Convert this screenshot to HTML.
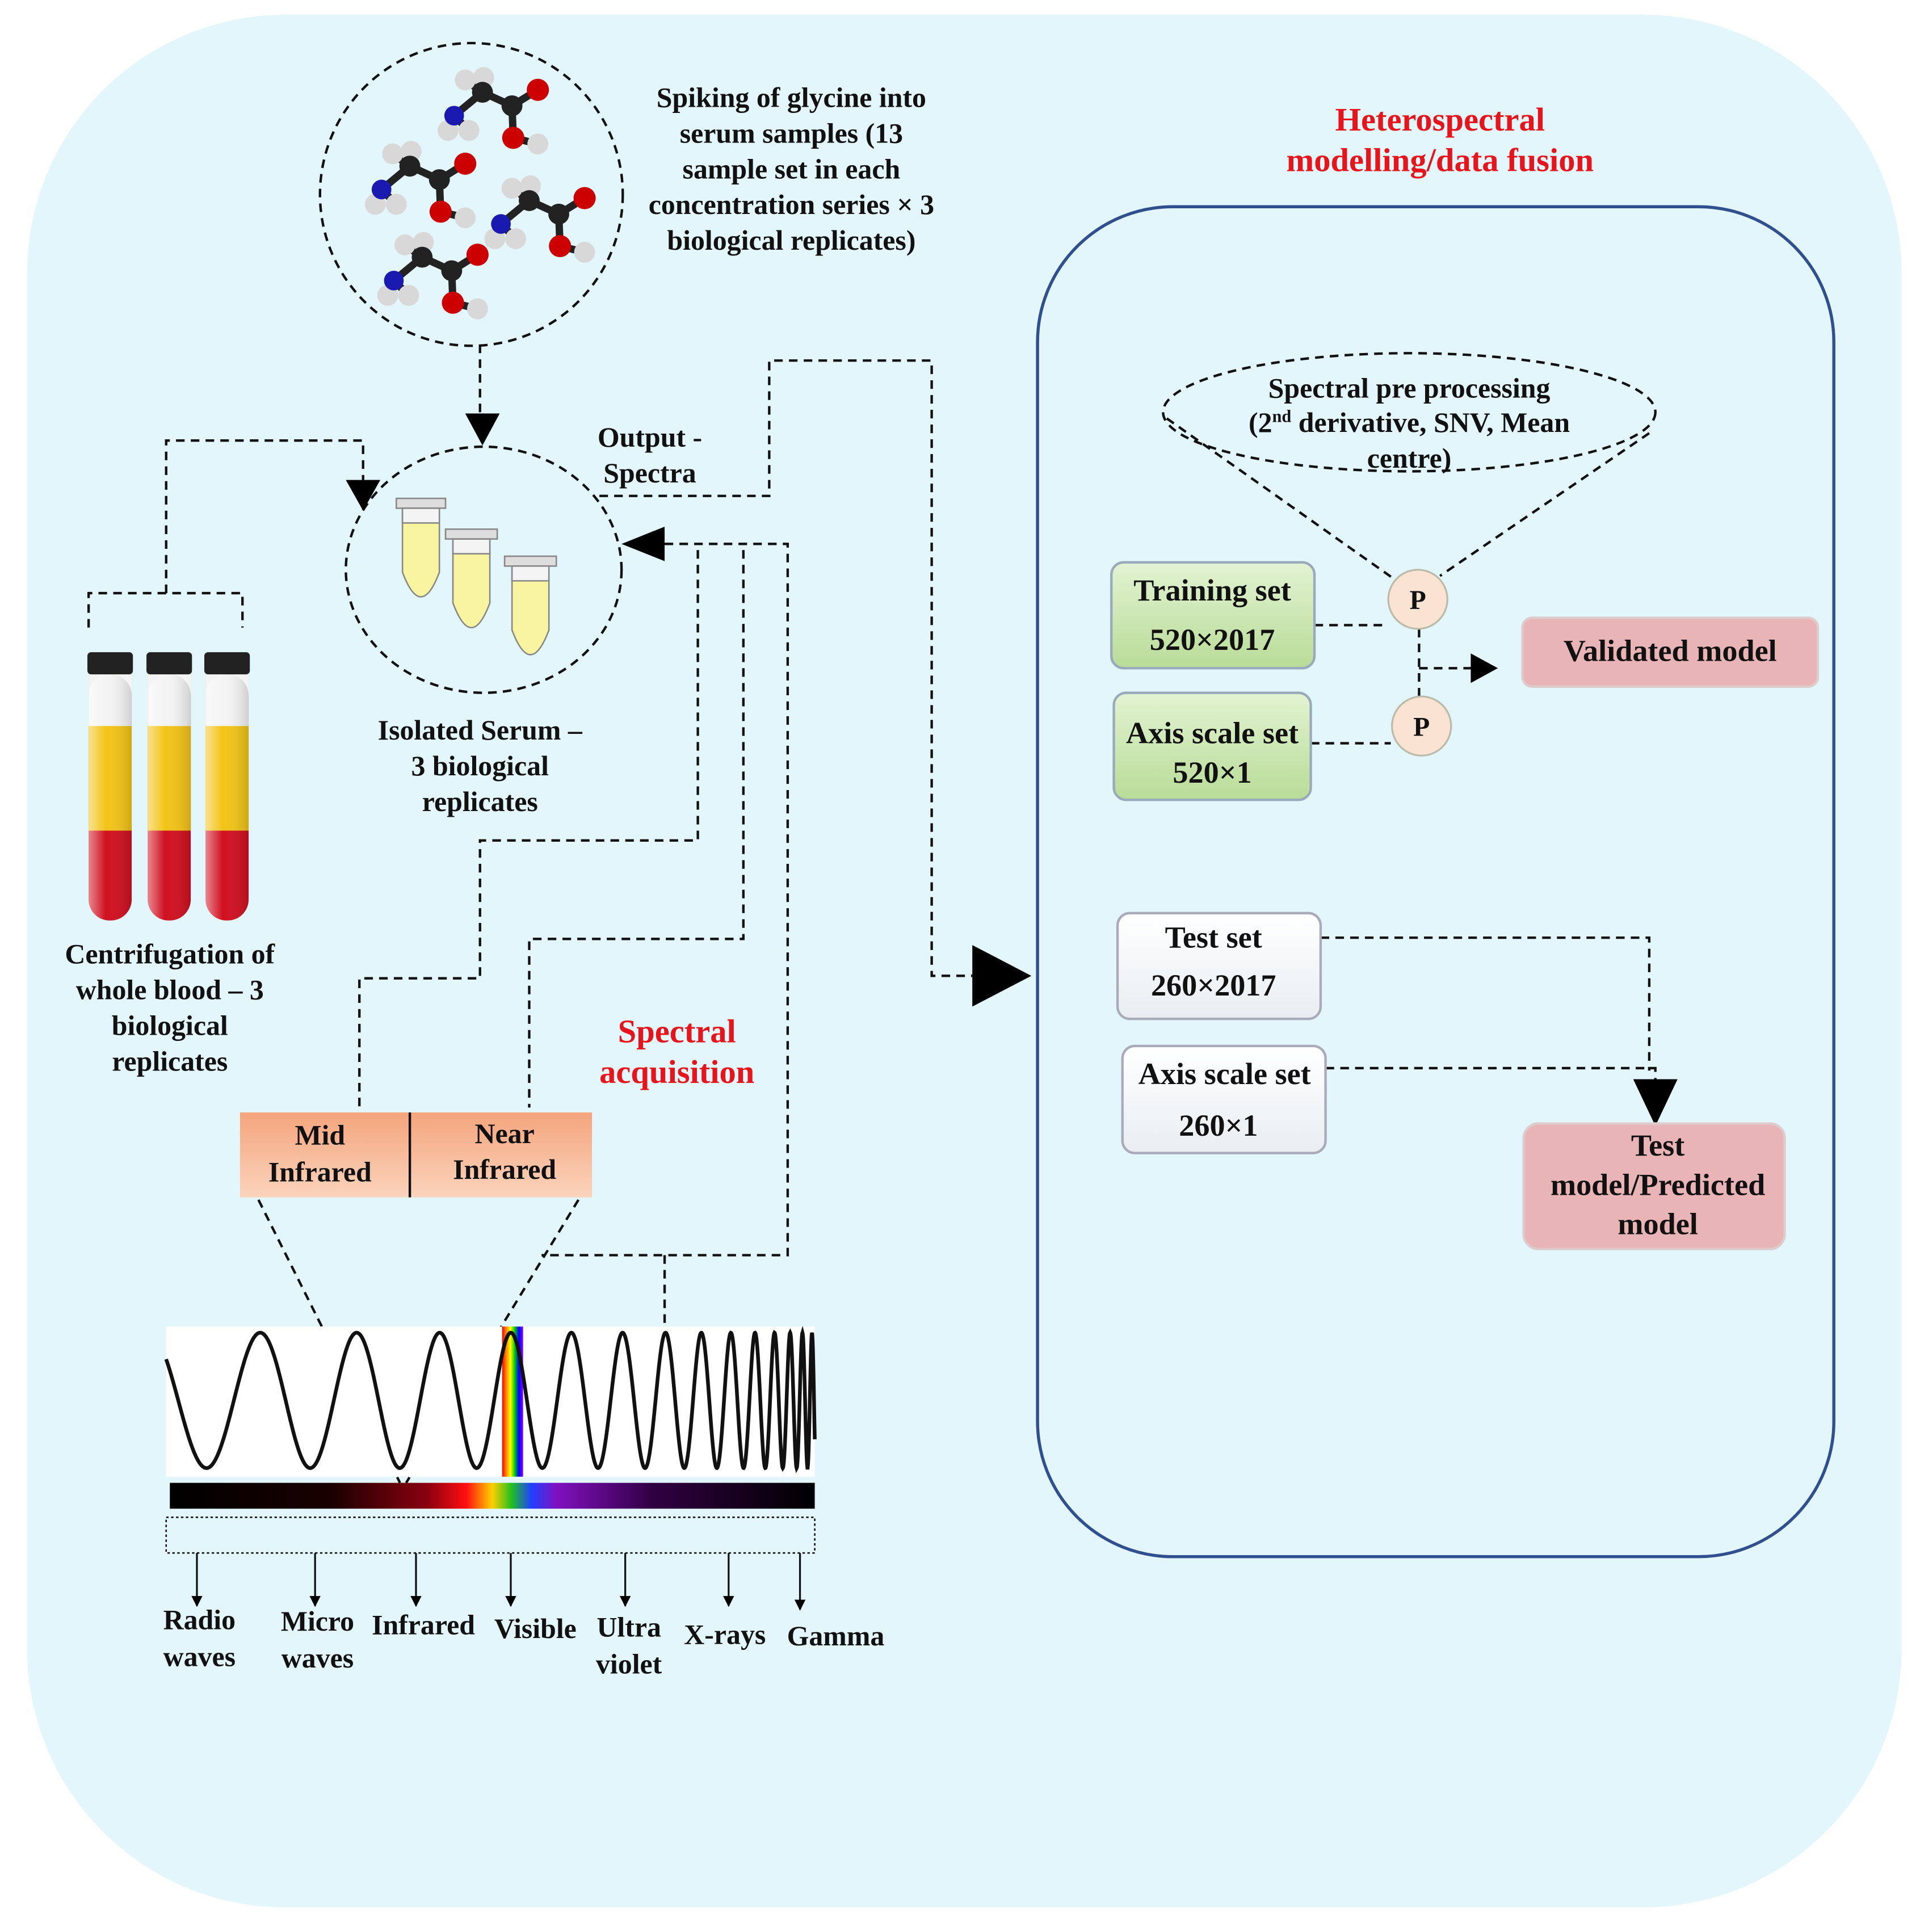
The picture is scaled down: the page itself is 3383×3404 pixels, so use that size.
<!DOCTYPE html>
<html><head><meta charset="utf-8"><style>
html,body{margin:0;padding:0;background:#fff;}
svg{display:block;}
text{font-family:"Liberation Serif",serif;font-weight:bold;fill:#111;}
.r{fill:#e8141c;}
</style></head><body>
<svg id="s" width="3383" height="3404" viewBox="0 0 1560 1570" preserveAspectRatio="none" xmlns="http://www.w3.org/2000/svg">
<defs>
<linearGradient id="spec" x1="0" x2="1" y1="0" y2="0">
<stop offset="0" stop-color="#000"/><stop offset="0.25" stop-color="#1a0000"/><stop offset="0.4" stop-color="#8a0010"/>
<stop offset="0.46" stop-color="#ff1010"/><stop offset="0.5" stop-color="#ffd000"/><stop offset="0.53" stop-color="#20c020"/>
<stop offset="0.56" stop-color="#2040ff"/><stop offset="0.6" stop-color="#8010c0"/><stop offset="0.75" stop-color="#300040"/><stop offset="1" stop-color="#000"/>
</linearGradient>
<linearGradient id="rb" x1="0" x2="1"><stop offset="0" stop-color="#f00"/><stop offset="0.2" stop-color="#f80"/><stop offset="0.4" stop-color="#ff0"/><stop offset="0.6" stop-color="#0c0"/><stop offset="0.8" stop-color="#00f"/><stop offset="1" stop-color="#80f"/></linearGradient>
<linearGradient id="peach" x1="0" y1="0" x2="0" y2="1"><stop offset="0" stop-color="#f4a57c"/><stop offset="1" stop-color="#fbd3bc"/></linearGradient>
<linearGradient id="green" x1="0" y1="0" x2="0" y2="1"><stop offset="0" stop-color="#e2f3d2"/><stop offset="1" stop-color="#b9dc98"/></linearGradient>
<linearGradient id="white" x1="0" y1="0" x2="0" y2="1"><stop offset="0" stop-color="#fff"/><stop offset="1" stop-color="#e9eef2"/></linearGradient>
<linearGradient id="tube" x1="0" x2="1"><stop offset="0" stop-color="#fff" stop-opacity="0.5"/><stop offset="0.4" stop-color="#fff" stop-opacity="0"/><stop offset="1" stop-color="#000" stop-opacity="0.15"/></linearGradient>
<marker id="a" viewBox="0 0 10 10" refX="9" refY="5" markerWidth="6" markerHeight="6" orient="auto"><path d="M0,0L10,5L0,10z" fill="#000"/></marker>
</defs>
<rect x="22" y="12" width="1523" height="1538" rx="210" fill="#e3f6fb"/>
<rect x="843" y="168" width="647" height="1097" rx="110" fill="none" stroke="#2f4f8f" stroke-width="2.5"/>

<g fill="none" stroke="#111" stroke-width="2" stroke-dasharray="7,5">
<circle cx="383" cy="158" r="123"/>
<ellipse cx="393" cy="463" rx="112" ry="100"/>
<path d="M390,280V340"/>
<path d="M72,510V482H197V510M135,482V358H295V395"/>
<path d="M487,403H625V293H757V793H790"/>
<path d="M567,447V683H390V795H292V900M604,447V763H430V900M540,442H640V1020H440M540,1020V1078"/>
<path d="M210,975L325,1205M470,975L330,1205"/>
<ellipse cx="1145" cy="335" rx="200" ry="48"/>
<path d="M948,340L1132,470M1340,352L1170,468"/>
<path d="M1068,508H1128M1065,604H1130M1153,511V566M1153,543H1200"/>
<path d="M1073,762H1340V870M1077,868H1345V880"/>
</g>
<polygon points="392,362 378,336 406,336" fill="#000"/>
<polygon points="295,415 281,390 309,390" fill="#000"/>
<polygon points="505,442 540,428 540,456" fill="#000"/>
<polygon points="838,793 790,768 790,818" fill="#000"/>
<polygon points="1217,543 1195,531 1195,555" fill="#000"/>
<polygon points="1345,915 1327,877 1363,877" fill="#000"/>

<g id="mols"></g>

<g stroke="#888" stroke-width="1.2">
<g transform="translate(322,405)"><rect x="0" y="0" width="40" height="8" fill="#ddd"/><path d="M5,8H35V60Q20,100 5,60Z" fill="#f8f4a0"/><path d="M5,8H35V20H5Z" fill="#f4f4f4"/></g>
<g transform="translate(362,430)"><rect x="0" y="0" width="42" height="8" fill="#ddd"/><path d="M6,8H36V60Q21,100 6,60Z" fill="#f8f4a0"/><path d="M6,8H36V20H6Z" fill="#f4f4f4"/></g>
<g transform="translate(410,452)"><rect x="0" y="0" width="42" height="8" fill="#ddd"/><path d="M6,8H36V60Q21,100 6,60Z" fill="#f8f4a0"/><path d="M6,8H36V20H6Z" fill="#f4f4f4"/></g>
</g>

<g>
<g transform="translate(72,530)"><rect x="0" y="18" width="35" height="200" rx="17" fill="#d01020"/><rect x="0" y="18" width="35" height="127" fill="#f2c418"/><rect x="0" y="18" width="35" height="42" fill="#f4f4f4"/><rect x="0" y="18" width="35" height="200" rx="17" fill="url(#tube)"/><rect x="-1" y="0" width="37" height="18" rx="3" fill="#222"/></g>
<g transform="translate(120,530)"><rect x="0" y="18" width="35" height="200" rx="17" fill="#d01020"/><rect x="0" y="18" width="35" height="127" fill="#f2c418"/><rect x="0" y="18" width="35" height="42" fill="#f4f4f4"/><rect x="0" y="18" width="35" height="200" rx="17" fill="url(#tube)"/><rect x="-1" y="0" width="37" height="18" rx="3" fill="#222"/></g>
<g transform="translate(167,530)"><rect x="0" y="18" width="35" height="200" rx="17" fill="#d01020"/><rect x="0" y="18" width="35" height="127" fill="#f2c418"/><rect x="0" y="18" width="35" height="42" fill="#f4f4f4"/><rect x="0" y="18" width="35" height="200" rx="17" fill="url(#tube)"/><rect x="-1" y="0" width="37" height="18" rx="3" fill="#222"/></g>
</g>

<rect x="195" y="904" width="286" height="69" fill="url(#peach)"/>
<line x1="333" y1="904" x2="333" y2="973" stroke="#111" stroke-width="2"/>

<rect x="135" y="1078" width="527" height="122" fill="#fff"/>
<rect x="408" y="1078" width="17" height="122" fill="url(#rb)"/>
<path id="wave" fill="none" stroke="#111" stroke-width="3"/>
<rect x="138" y="1205" width="524" height="21" fill="url(#spec)"/>
<rect x="135" y="1233" width="527" height="29" fill="none" stroke="#111" stroke-width="1.2" stroke-dasharray="2,2"/>
<g stroke="#111" stroke-width="1.5" marker-end="url(#a)">
<line x1="160" y1="1262" x2="160" y2="1305"/><line x1="256" y1="1262" x2="256" y2="1305"/><line x1="338" y1="1262" x2="338" y2="1305"/><line x1="415" y1="1262" x2="415" y2="1305"/><line x1="508" y1="1262" x2="508" y2="1305"/><line x1="592" y1="1262" x2="592" y2="1305"/><line x1="650" y1="1262" x2="650" y2="1308"/>
</g>

<rect x="903" y="457" width="165" height="86" rx="10" fill="url(#green)" stroke="#9ab" stroke-width="2"/>
<rect x="905" y="563" width="160" height="87" rx="10" fill="url(#green)" stroke="#9ab" stroke-width="2"/>
<rect x="1237" y="502" width="240" height="56" rx="8" fill="#e8b4b6" stroke="#dcc" stroke-width="2"/>
<rect x="908" y="742" width="165" height="86" rx="10" fill="url(#white)" stroke="#aab" stroke-width="2"/>
<rect x="912" y="850" width="165" height="87" rx="10" fill="url(#white)" stroke="#aab" stroke-width="2"/>
<rect x="1238" y="913" width="212" height="102" rx="12" fill="#e8b4b6" stroke="#dcc" stroke-width="2"/>
<circle cx="1152" cy="487" r="24" fill="#fbe3d3" stroke="#bba" stroke-width="1.5"/>
<circle cx="1155" cy="590" r="24" fill="#fbe3d3" stroke="#bba" stroke-width="1.5"/>

<g font-size="23" text-anchor="middle">
<text x="643" y="87">Spiking of glycine into</text>
<text x="643" y="116">serum samples (13</text>
<text x="643" y="145">sample set in each</text>
<text x="643" y="174">concentration series × 3</text>
<text x="643" y="203">biological replicates)</text>
<text x="528" y="363">Output -</text>
<text x="528" y="392">Spectra</text>
<text x="390" y="601">Isolated Serum –</text>
<text x="390" y="630">3 biological</text>
<text x="390" y="659">replicates</text>
<text x="138" y="783">Centrifugation of</text>
<text x="138" y="812">whole blood – 3</text>
<text x="138" y="841">biological</text>
<text x="138" y="870">replicates</text>
<text class="r" x="550" y="847" font-size="27">Spectral</text>
<text class="r" x="550" y="880" font-size="27">acquisition</text>
<text class="r" x="1170" y="106" font-size="27">Heterospectral</text>
<text class="r" x="1170" y="139" font-size="27">modelling/data fusion</text>
<text x="260" y="930">Mid</text><text x="260" y="960">Infrared</text>
<text x="410" y="929">Near</text><text x="410" y="958">Infrared</text>
<text x="162" y="1324">Radio</text><text x="162" y="1354">waves</text>
<text x="258" y="1325">Micro</text><text x="258" y="1355">waves</text>
<text x="344" y="1328">Infrared</text>
<text x="435" y="1331">Visible</text>
<text x="511" y="1330">Ultra</text><text x="511" y="1360">violet</text>
<text x="589" y="1336">X-rays</text>
<text x="679" y="1337">Gamma</text>
<text x="1145" y="323">Spectral pre processing</text>
<text x="1145" y="351">(2<tspan font-size="14" dy="-8">nd</tspan><tspan dy="8"> derivative, SNV, Mean</tspan></text>
<text x="1145" y="380">centre)</text>
<text x="985" y="488" font-size="25">Training set</text>
<text x="985" y="528" font-size="25">520×2017</text>
<text x="985" y="604" font-size="25">Axis scale set</text>
<text x="985" y="636" font-size="25">520×1</text>
<text x="1357" y="537" font-size="25">Validated model</text>
<text x="986" y="770" font-size="25">Test set</text>
<text x="986" y="809" font-size="25">260×2017</text>
<text x="995" y="881" font-size="25">Axis scale set</text>
<text x="990" y="923" font-size="25">260×1</text>
<text x="1347" y="939" font-size="25">Test</text>
<text x="1347" y="971" font-size="25">model/Predicted</text>
<text x="1347" y="1003" font-size="25">model</text>
<text x="1152" y="495" font-size="22">P</text>
<text x="1155" y="598" font-size="22">P</text>
</g>
</svg>
<script>
(function(){
var NS="http://www.w3.org/2000/svg";
var d="",ph=0;
for(var x=135;x<=662;x+=0.25){var t=(x-135)/545;var lam=95*Math.pow(Math.max(1-t,0.02),0.8);ph+=2*Math.PI*0.25/lam;var y=1138-55*Math.cos(ph+0.9);d+=(x==135?"M":"L")+x.toFixed(2)+","+y.toFixed(1);}
document.getElementById("wave").setAttribute("d",d);
var g=document.getElementById("mols");
var atoms=[[-14,-10,8.5,"#d8d8d8"],[1,-12,8.5,"#d8d8d8"],[-28,31,8.5,"#d8d8d8"],[-11,31,8.5,"#d8d8d8"],[45,42,8.5,"#d8d8d8"],[-23,19,8,"#1a1ab0"],[0,0,8.5,"#222"],[24,11,8.5,"#222"],[45,-2,9,"#cc0000"],[25,37,9,"#cc0000"]];
var bonds=[[0,0,24,11],[0,0,-23,19],[24,11,45,-2],[24,11,25,37],[25,37,45,42],[0,0,-14,-10],[0,0,1,-12],[-23,19,-28,31],[-23,19,-11,31]];
[[392,75],[333,135],[430,163],[343,209]].forEach(function(c){
 bonds.forEach(function(b){var l=document.createElementNS(NS,"line");l.setAttribute("x1",c[0]+b[0]);l.setAttribute("y1",c[1]+b[1]);l.setAttribute("x2",c[0]+b[2]);l.setAttribute("y2",c[1]+b[3]);l.setAttribute("stroke","#222");l.setAttribute("stroke-width","6");g.appendChild(l);});
 atoms.forEach(function(a){var e=document.createElementNS(NS,"circle");e.setAttribute("cx",c[0]+a[0]);e.setAttribute("cy",c[1]+a[1]);e.setAttribute("r",a[2]);e.setAttribute("fill",a[3]);g.appendChild(e);});
});
})();
</script>
</body></html>
